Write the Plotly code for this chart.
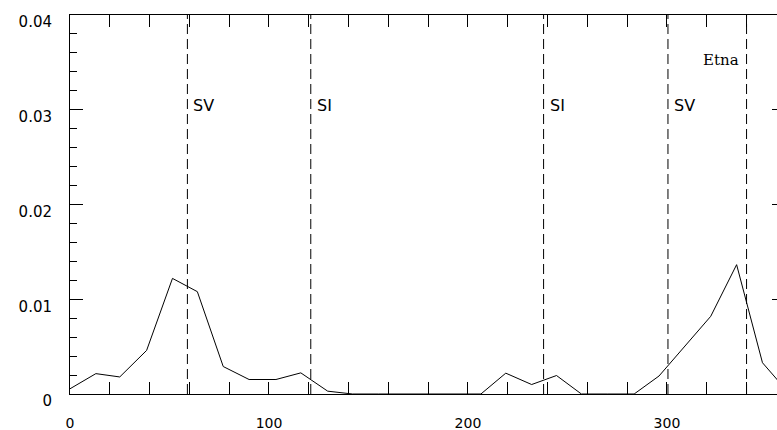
import plotly.graph_objects as go

# curve values
lon = [0, 13, 25, 38.5, 51.5, 64, 77, 90, 103.5, 116, 129.5, 142, 155, 167.5, 180.5,
       193, 206.5, 219, 232, 244.5, 257, 270, 283.5, 296, 309, 322, 335, 348, 360]
val = [0.00055, 0.00215, 0.0018, 0.0046, 0.0122, 0.0108, 0.0029, 0.00153, 0.00153,
       0.00223, 0.0003, 0, 0, 0, 0, 0, 0, 0.0022, 0.001, 0.00195, 0, 0, 0, 0.0019,
       0.0051, 0.0082, 0.01365, 0.0033, 0.0004]

# marked positions (dashed lines) and their labels
mark_x = [59, 121, 238, 300.5, 340]
label_text = ["SV", "SI", "SI", "SV"]
label_x = [59, 121, 238, 300.5]
label_y = [0.0304, 0.0304, 0.0304, 0.0304]
etna_text = "Etna"
etna_x = 340
etna_y = 0.0353

x_ticks = [0, 100, 200, 300]
x_ticktext = ["0", "100", "200", "300"]
y_ticks = [0, 0.01, 0.02, 0.03, 0.04]
y_ticktext = ["0", "0.01", "0.02", "0.03", "0.04"]

fig = go.Figure()
fig.add_trace(go.Scatter(x=lon, y=val, mode="lines",
                         line=dict(color="black", width=1), showlegend=False,
                         hoverinfo="skip"))
# carrier for the right-hand tick axis
fig.add_trace(go.Scatter(x=[lon[0]], y=[val[0]], yaxis="y2", mode="lines",
                         line=dict(color="rgba(0,0,0,0)"), showlegend=False,
                         hoverinfo="skip"))

for xv in mark_x:
    fig.add_vline(x=xv, line=dict(color="black", width=1, dash="10px,5px"))

for t, xv, yv in zip(label_text, label_x, label_y):
    fig.add_annotation(x=xv, y=yv, text=t, showarrow=False, xanchor="left",
                       yanchor="middle", xshift=4,
                       font=dict(family="DejaVu Sans", size=16, color="black"))
fig.add_annotation(x=etna_x, y=etna_y, text=etna_text, showarrow=False,
                   xanchor="right", yanchor="middle", xshift=-6,
                   font=dict(family="DejaVu Serif", size=15, color="black"))

tickfont = dict(family="DejaVu Sans", size=15, color="black")
fig.update_layout(
    width=777, height=430,
    margin=dict(l=70, r=0, t=15, b=36),
    paper_bgcolor="white", plot_bgcolor="white",
    xaxis=dict(range=[0, 355.3], showgrid=False, zeroline=False, automargin=False,
               showline=True, linecolor="black", linewidth=1, mirror="allticks",
               ticks="inside", ticklen=12, tickcolor="black", tickwidth=1,
               tickvals=x_ticks, ticktext=x_ticktext,
               tickfont=dict(family="DejaVu Sans", size=14, color="black"),
               ticklabelstandoff=16,
               minor=dict(ticks="inside", ticklen=6, dtick=20, tickcolor="black",
                          showgrid=False)),
    yaxis=dict(range=[0, 0.04], showgrid=False, zeroline=False, automargin=False,
               showline=True, linecolor="black", linewidth=1, mirror=False,
               ticks="inside", ticklen=13, tickcolor="black", tickwidth=1,
               tickvals=y_ticks, ticktext=y_ticktext, tickfont=tickfont,
               ticklabelstandoff=14, ticklabelshift=7, ticklabeloverflow="allow",
               minor=dict(ticks="inside", ticklen=7, dtick=0.002, tickcolor="black",
                          showgrid=False)),
    yaxis2=dict(range=[0, 0.04], overlaying="y", side="right", showgrid=False,
                zeroline=False, showline=False, ticks="inside", ticklen=5,
                automargin=False,
                tickcolor="black", tickvals=y_ticks, showticklabels=False),
)

fig.write_html(
    "out.html",
    config={"displayModeBar": False},
    post_script="document.body.style.margin='0';document.body.style.overflow='hidden';",
)
